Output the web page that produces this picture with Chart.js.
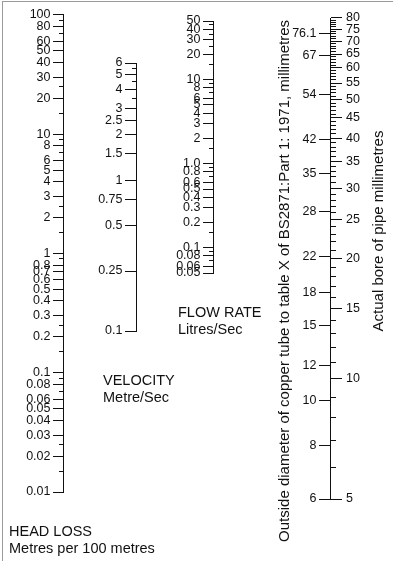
<!DOCTYPE html>
<html>
<head>
<meta charset="utf-8">
<script src="https://cdn.jsdelivr.net/npm/chart.js@4"></script>
<style>
  html, body { margin: 0; padding: 0; background: #fff; }
  #wrap { position: relative; width: 393px; height: 561px; }
  #frame { position: absolute; left: 2px; top: 1px; right: 0; bottom: 0; border-left: 1px solid #9a9a9a; border-top: 1px solid #9a9a9a; pointer-events: none; }
</style>
</head>
<body>
<div id="wrap"><canvas id="nomo"></canvas><div id="frame"></div></div>
<script>
// head loss, metres per 100 metres
const headLossTicks = [100, 80, 60, 50, 40, 30, 20, 10, 8, 6, 5, 4, 3, 2, 1, 0.8, 0.7, 0.6, 0.5, 0.4, 0.3, 0.2, 0.1, 0.08, 0.06, 0.05, 0.04, 0.03, 0.02, 0.01];
const headLossLabels = ['100', '80', '60', '50', '40', '30', '20', '10', '8', '6', '5', '4', '3', '2', '1', '0.8', '0.7', '0.6', '0.5', '0.4', '0.3', '0.2', '0.1', '0.08', '0.06', '0.05', '0.04', '0.03', '0.02', '0.01'];
const headLossMinor = [90, 70, 25, 15, 9, 7, 2.5, 1.5, 0.9, 0.25, 0.15, 0.09, 0.07, 0.025, 0.015];

// velocity, metre/sec
const velocityTicks = [6, 5, 4, 3, 2.5, 2, 1.5, 1, 0.75, 0.5, 0.25, 0.1];
const velocityLabels = ['6', '5', '4', '3', '2.5', '2', '1.5', '1', '0.75', '0.5', '0.25', '0.1'];
const velocityMinor = [5.5, 4.5, 3.5];

// flow rate, litres/sec
const flowTicks = [50, 40, 30, 20, 10, 8, 6, 5, 4, 3, 2, 1, 0.8, 0.6, 0.5, 0.4, 0.3, 0.2, 0.1, 0.08, 0.06, 0.05];
const flowLabels = ['50', '40', '30', '20', '10', '8', '6', '5', '4', '3', '2', '1.0', '0.8', '0.6', '0.5', '0.4', '0.3', '0.2', '0.1', '0.08', '0.06', '0.05'];
const flowMinor = [45, 35, 25, 15, 9, 7, 1.5, 0.9, 0.7, 0.15, 0.09, 0.07];

// actual bore of pipe, mm
const boreTicks = [80, 75, 70, 65, 60, 55, 50, 45, 40, 35, 30, 25, 20, 15, 10, 5];
const boreLabels = ['80', '75', '70', '65', '60', '55', '50', '45', '40', '35', '30', '25', '20', '15', '10', '5'];
const boreMinor = [79, 78, 77, 76, 74, 73, 72, 71, 69, 68, 67, 66, 64, 63, 62, 61, 59, 58, 57, 56,
  54, 53, 52, 51, 49, 48, 47, 46, 44, 43, 42, 41, 39, 38, 37, 36, 34, 33, 32, 31,
  29, 28, 27, 26, 24, 23, 22, 21, 19, 18, 17, 16, 14, 13, 12, 11, 9, 8, 7, 6];

// outside diameter of copper tube (label) placed at its bore (mm)
const odLabels = ['76.1', '67', '54', '42', '35', '28', '22', '18', '15', '12', '10', '8', '6'];
const odBore = [73.1, 64.6, 51.6, 39.6, 32.6, 26.2, 20.2, 16.4, 13.6, 10.8, 8.8, 6.8, 5];

// layout (pixels)
const W = 393, H = 561;
const INK = '#111';
const FONT = '"Liberation Sans", Arial, Helvetica, sans-serif';
const cols = {
  head: { x: 63.5, top: 15, bottom: 492 },
  vel:  { x: 136.5, top: 63, bottom: 331 },
  flow: { x: 213.5, top: 21, bottom: 273 },
  pipe: { x: 330.5, top: 18, bottom: 499 }
};
const PIPE_RIGHT = 62; // width of bore label strip

function logRange(vTop, yTop, vBot, yBot) {
  const ppd = (yBot - yTop) / Math.log10(vTop / vBot);
  return {
    max: vTop * Math.pow(10, yTop / ppd),
    min: vBot / Math.pow(10, (H - yBot) / ppd)
  };
}

const rHead = logRange(headLossTicks[0], cols.head.top, headLossTicks[headLossTicks.length - 1], cols.head.bottom);
const rVel = logRange(velocityTicks[0], cols.vel.top, velocityTicks[velocityTicks.length - 1], cols.vel.bottom);
const rFlow = logRange(flowTicks[0], cols.flow.top, flowTicks[flowTicks.length - 1], cols.flow.bottom);
const rPipe = logRange(boreTicks[0], cols.pipe.top, boreTicks[boreTicks.length - 1], cols.pipe.bottom);

// keep label half-heights from shrinking the chart area
function noPad(s) { s.paddingTop = 0; s.paddingBottom = 0; }

function tickAxis(r, x, values, len) {
  return {
    type: 'logarithmic', axis: 'y', min: r.min, max: r.max,
    position: { x: x },
    afterFit: noPad,
    afterBuildTicks: s => { s.ticks = values.map(v => ({ value: v })); },
    border: { display: false },
    grid: { display: true, drawOnChartArea: false, drawTicks: true, tickLength: len, tickColor: INK, tickWidth: 1 },
    ticks: { display: false, autoSkip: false }
  };
}

function labelAxis(r, x, values, labels) {
  return {
    type: 'logarithmic', axis: 'y', min: r.min, max: r.max,
    position: { x: x },
    afterFit: noPad,
    afterBuildTicks: s => { s.ticks = values.map(v => ({ value: v })); },
    border: { display: false },
    grid: { display: false, drawTicks: false },
    ticks: {
      display: true, autoSkip: false, padding: 0, color: INK,
      font: { family: FONT, size: 12.5 },
      callback: (v, i) => labels[i]
    }
  };
}

function spine(axisId, x, values) {
  return {
    yAxisID: axisId, xAxisID: 'x',
    data: [{ x: x, y: values[0] }, { x: x, y: values[values.length - 1] }],
    showLine: true, borderColor: INK, borderWidth: 1, pointRadius: 0, clip: false
  };
}

const scales = {
  x: { type: 'linear', axis: 'x', min: 0, max: W - PIPE_RIGHT, display: false },

  headMajor: tickAxis(rHead, cols.head.x, headLossTicks, 11),
  headMinor: tickAxis(rHead, cols.head.x, headLossMinor, 5),
  headText: labelAxis(rHead, cols.head.x - 13, headLossTicks, headLossLabels),

  velMajor: tickAxis(rVel, cols.vel.x, velocityTicks, 12),
  velMinor: tickAxis(rVel, cols.vel.x, velocityMinor, 5),
  velText: labelAxis(rVel, cols.vel.x - 14, velocityTicks, velocityLabels),

  flowMajor: tickAxis(rFlow, cols.flow.x, flowTicks, 11),
  flowMinor: tickAxis(rFlow, cols.flow.x, flowMinor, 5),
  flowText: labelAxis(rFlow, cols.flow.x - 13, flowTicks, flowLabels),

  odMajor: tickAxis(rPipe, cols.pipe.x, odBore, 12),
  odText: labelAxis(rPipe, cols.pipe.x - 14, odBore, odLabels),

  boreMinor: {
    type: 'logarithmic', axis: 'y', min: rPipe.min, max: rPipe.max, position: 'right', weight: 0,
    afterFit: s => { s.width = 0; noPad(s); },
    afterBuildTicks: s => { s.ticks = boreMinor.map(v => ({ value: v })); },
    border: { display: false },
    grid: { display: true, drawOnChartArea: false, drawTicks: true, tickLength: 5, tickColor: INK },
    ticks: { display: false, autoSkip: false }
  },
  boreMajor: {
    type: 'logarithmic', axis: 'y', min: rPipe.min, max: rPipe.max, position: 'right', weight: 1,
    afterFit: s => { s.width = PIPE_RIGHT; noPad(s); },
    afterBuildTicks: s => { s.ticks = boreTicks.map(v => ({ value: v })); },
    border: { display: false },
    grid: { display: true, drawOnChartArea: false, drawTicks: true, tickLength: 11, tickColor: INK },
    ticks: {
      display: true, autoSkip: false, padding: 4, color: INK,
      font: { family: FONT, size: 12.5 },
      callback: (v, i) => boreLabels[i]
    }
  }
};

// free text: column names and the two vertical captions
const captions = [
  { text: 'HEAD LOSS', x: 9, y: 532 },
  { text: 'Metres per 100 metres', x: 9, y: 549 },
  { text: 'VELOCITY', x: 103, y: 381 },
  { text: 'Metre/Sec', x: 103, y: 398 },
  { text: 'FLOW RATE', x: 178, y: 313 },
  { text: 'Litres/Sec', x: 178, y: 330 }
];
const verticalCaptions = [
  { text: 'Outside diameter of copper tube to table X of BS2871:Part 1: 1971, millimetres', x: 285, y: 281 },
  { text: 'Actual bore of pipe millimetres', x: 379, y: 231 }
];

const captionPlugin = {
  id: 'captions',
  afterDraw(chart) {
    const ctx = chart.ctx;
    ctx.save();
    ctx.fillStyle = INK;
    ctx.font = '14.5px ' + FONT;
    ctx.textBaseline = 'middle';
    ctx.textAlign = 'left';
    captions.forEach(c => ctx.fillText(c.text, c.x, c.y));
    ctx.font = '15px ' + FONT;
    ctx.textAlign = 'center';
    verticalCaptions.forEach(c => {
      ctx.save();
      ctx.translate(c.x, c.y);
      ctx.rotate(-Math.PI / 2);
      ctx.fillText(c.text, 0, 0);
      ctx.restore();
    });
    ctx.restore();
  }
};

const ctx = document.getElementById('nomo').getContext('2d');
new Chart(ctx, {
  type: 'scatter',
  data: {
    datasets: [
      spine('headMajor', cols.head.x, headLossTicks),
      spine('velMajor', cols.vel.x, velocityTicks),
      spine('flowMajor', cols.flow.x, flowTicks),
      spine('boreMajor', cols.pipe.x, boreTicks)
    ]
  },
  options: {
    responsive: true,
    maintainAspectRatio: false,
    animation: false,
    events: [],
    layout: { padding: 0 },
    plugins: { legend: { display: false }, tooltip: { enabled: false } },
    scales: scales
  },
  plugins: [captionPlugin]
});
</script>
</body>
</html>
